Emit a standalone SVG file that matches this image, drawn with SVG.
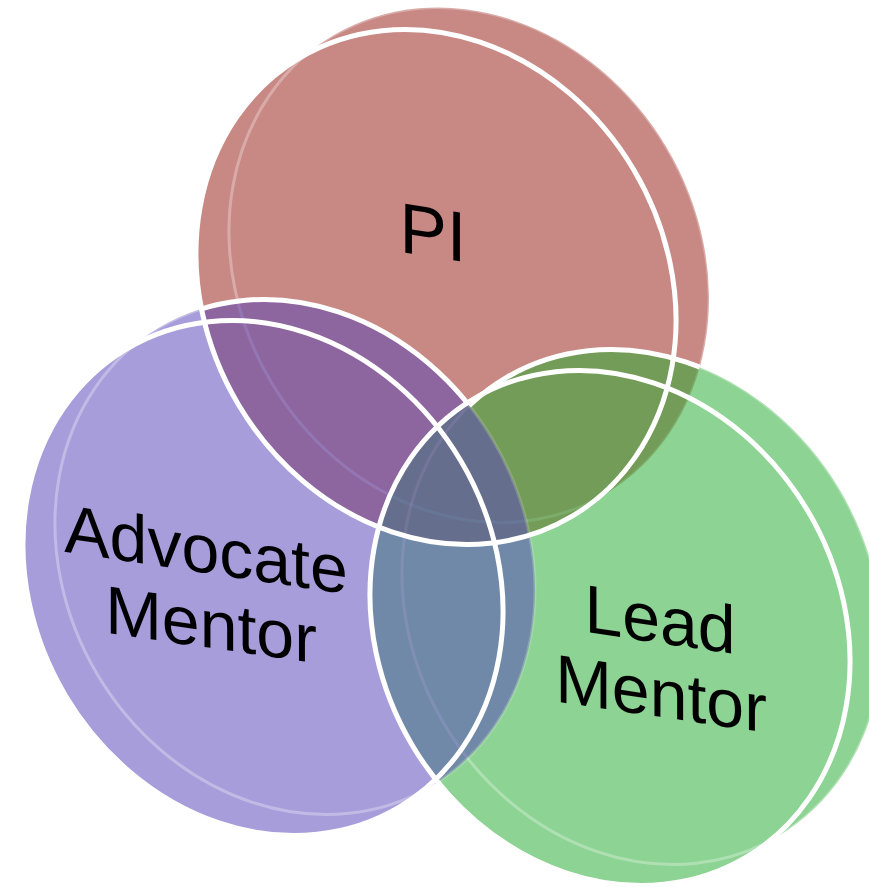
<svg xmlns="http://www.w3.org/2000/svg" xmlns:xlink="http://www.w3.org/1999/xlink" width="869" height="887" viewBox="0 0 869 887">
  <defs>
    <ellipse id="disc" cx="0" cy="0" rx="266.6" ry="229.9" transform="rotate(59.27)"/>
    <style>
      .red { fill: #991F17; }
      .green { fill: #2AAE35; }
      .purple { fill: #5948BB; }
      .set { opacity: 0.53; }
      .faint { fill: none; stroke: #FFFFFF; stroke-opacity: 0.3; stroke-width: 3; }
      .edge { fill: none; stroke: #FFFFFF; stroke-width: 5; }
      .label { font-family: "Liberation Sans", Arial, sans-serif; font-size: 68px; fill: #000000; text-anchor: middle; }
    </style>
    <mask id="redNotPurple" maskUnits="userSpaceOnUse" x="0" y="0" width="869" height="887">
      <use href="#disc" x="436" y="287" fill="#FFFFFF"/>
      <use href="#disc" x="469" y="265" fill="#FFFFFF"/>
      <use href="#disc" x="263" y="578" fill="#000000"/>
      <use href="#disc" x="295" y="557" fill="#000000"/>
    </mask>
    <mask id="redNotGreen" maskUnits="userSpaceOnUse" x="0" y="0" width="869" height="887">
      <use href="#disc" x="436" y="287" fill="#FFFFFF"/>
      <use href="#disc" x="469" y="265" fill="#FFFFFF"/>
      <use href="#disc" x="610" y="628" fill="#000000"/>
      <use href="#disc" x="642" y="607" fill="#000000"/>
    </mask>
  </defs>

  <g id="pi">
    <g class="set red">
      <use href="#disc" x="436" y="287"/>
      <use href="#disc" x="469" y="265"/>
      <use href="#disc" x="469" y="265" class="faint"/>
    </g>
  </g>

  <g id="lead-mentor">
    <g class="set green">
      <use href="#disc" x="610" y="628"/>
      <use href="#disc" x="642" y="607"/>
      <use href="#disc" x="642" y="607" class="faint"/>
    </g>
  </g>

  <g id="advocate-mentor">
    <g class="set purple">
      <use href="#disc" x="263" y="578"/>
      <use href="#disc" x="295" y="557"/>
      <use href="#disc" x="295" y="557" class="faint"/>
    </g>
  </g>

  <g id="connectors">
    <g mask="url(#redNotPurple)">
      <use href="#disc" x="642" y="607" class="edge"/>
    </g>
    <g mask="url(#redNotGreen)">
      <use href="#disc" x="295" y="557" class="edge"/>
    </g>
    <use href="#disc" x="436" y="287" class="edge"/>
    <use href="#disc" x="263" y="578" class="edge"/>
    <use href="#disc" x="610" y="628" class="edge"/>
  </g>

  <g id="labels">
    <text class="label" transform="translate(433,257) skewY(9)" style="font-size:71px">PI</text>
    <text class="label" transform="translate(206,573) skewY(8.5)">Advocate</text>
    <text class="label" transform="translate(211,648) skewY(8.2)">Mentor</text>
    <text class="label" transform="translate(660,643) skewY(8.4)">Lead</text>
    <text class="label" transform="translate(661,717) skewY(8.4)">Mentor</text>
  </g>
</svg>
